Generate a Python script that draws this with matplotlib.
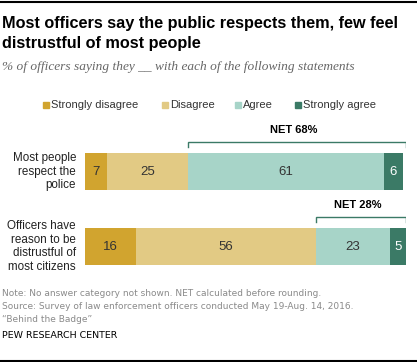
import numpy as np
import matplotlib
matplotlib.use("Agg")
import matplotlib.pyplot as plt
from matplotlib.lines import Line2D

categories = ["Most people\nrespect the\npolice",
              "Officers have\nreason to be\ndistrustful of\nmost citizens"]
responses = ["Strongly disagree", "Disagree", "Agree", "Strongly agree"]
strongly_disagree = [7, 16]
disagree = [25, 56]
agree = [61, 23]
strongly_agree = [6, 5]
net_labels = ["NET 68%", "NET 28%"]

colors = ["#D1A42F", "#E2CA84", "#A7D4C8", "#3B7A66"]
text_colors = ["#333333", "#333333", "#333333", "white"]
SANS = "Liberation Sans"

W, H = 417, 362
fig = plt.figure(figsize=(W / 100, H / 100), dpi=100)

def fx(px):
    return px / W

def fy(py):
    return 1 - py / H

# axes placed in pixel space
ax_top, ax_bot = 120, 285
ax = fig.add_axes([fx(85), fy(ax_bot), fx(406) - fx(85), (ax_bot - ax_top) / H])
ax.set_xlim(0, 100)
ax.set_ylim(1.513, -0.687)
ax.axis("off")

series = [strongly_disagree, disagree, agree, strongly_agree]
ypos = np.arange(len(categories))
left = np.zeros(len(categories))
for vals, c, tc in zip(series, colors, text_colors):
    vals = np.array(vals)
    ax.barh(ypos, vals, left=left, height=0.493, color=c, edgecolor="none")
    for y, l, v in zip(ypos, left, vals):
        ax.text(l + v / 2, y, str(v), ha="center", va="center",
                fontsize=9.5, color=tc, family=SANS)
    left = left + vals

# NET brackets over agree + strongly agree
agree_start = np.array(strongly_disagree) + np.array(disagree)
for y, start, lab in zip(ypos, agree_start, net_labels):
    yb = y - 0.40
    ax.plot([start, start, 100, 100], [yb + 0.07, yb, yb, yb + 0.07],
            color="#3B7A66", lw=1, solid_joinstyle="miter")
    ax.text((start + 100) / 2 - 1, yb - 0.15, lab, ha="center", va="center",
            fontsize=8, fontweight="bold", color="black", family=SANS)

# category labels
for y, cat in zip(ypos, categories):
    ax.text(-2.8, y, cat, ha="right", va="center", fontsize=8.4,
            color="#222222", linespacing=1.17, family=SANS)

# title block
fig.text(fx(2), fy(28), "Most officers say the public respects them, few feel",
         ha="left", va="baseline", fontsize=11.7, fontweight="bold", family=SANS)
fig.text(fx(2), fy(48), "distrustful of most people",
         ha="left", va="baseline", fontsize=11.7, fontweight="bold", family=SANS)
fig.text(fx(2), fy(70), "% of officers saying they __ with each of the following statements",
         ha="left", va="baseline", fontsize=9.6, style="italic", color="#666666",
         family="Liberation Serif")

# legend
leg_x = [43, 162, 235, 295]
for x, lab, c in zip(leg_x, responses, colors):
    fig.patches.append(plt.Rectangle((fx(x), fy(108)), 6 / W, 6 / H, color=c,
                                     transform=fig.transFigure))
    fig.text(fx(x + 8), fy(105), lab, ha="left", va="center", fontsize=8,
             color="#333333", family=SANS)

# notes
notes = ["Note: No answer category not shown. NET calculated before rounding.",
         "Source: Survey of law enforcement officers conducted May 19-Aug. 14, 2016.",
         "\u201cBehind the Badge\u201d"]
for i, n in enumerate(notes):
    fig.text(fx(2), fy(293 + 13.5 * i), n, ha="left", va="center", fontsize=6.5,
             color="#8a8a8a", family="DejaVu Sans")
fig.text(fx(2), fy(335), "PEW RESEARCH CENTER", ha="left", va="center", fontsize=6.8,
         color="black", family="DejaVu Sans")

# rules
fig.add_artist(Line2D([0, 1], [fy(1.5), fy(1.5)], color="black", lw=1.5))
fig.add_artist(Line2D([0, 1], [fy(360.5), fy(360.5)], color="black", lw=1.5))

fig.savefig("out.png", dpi=100)
